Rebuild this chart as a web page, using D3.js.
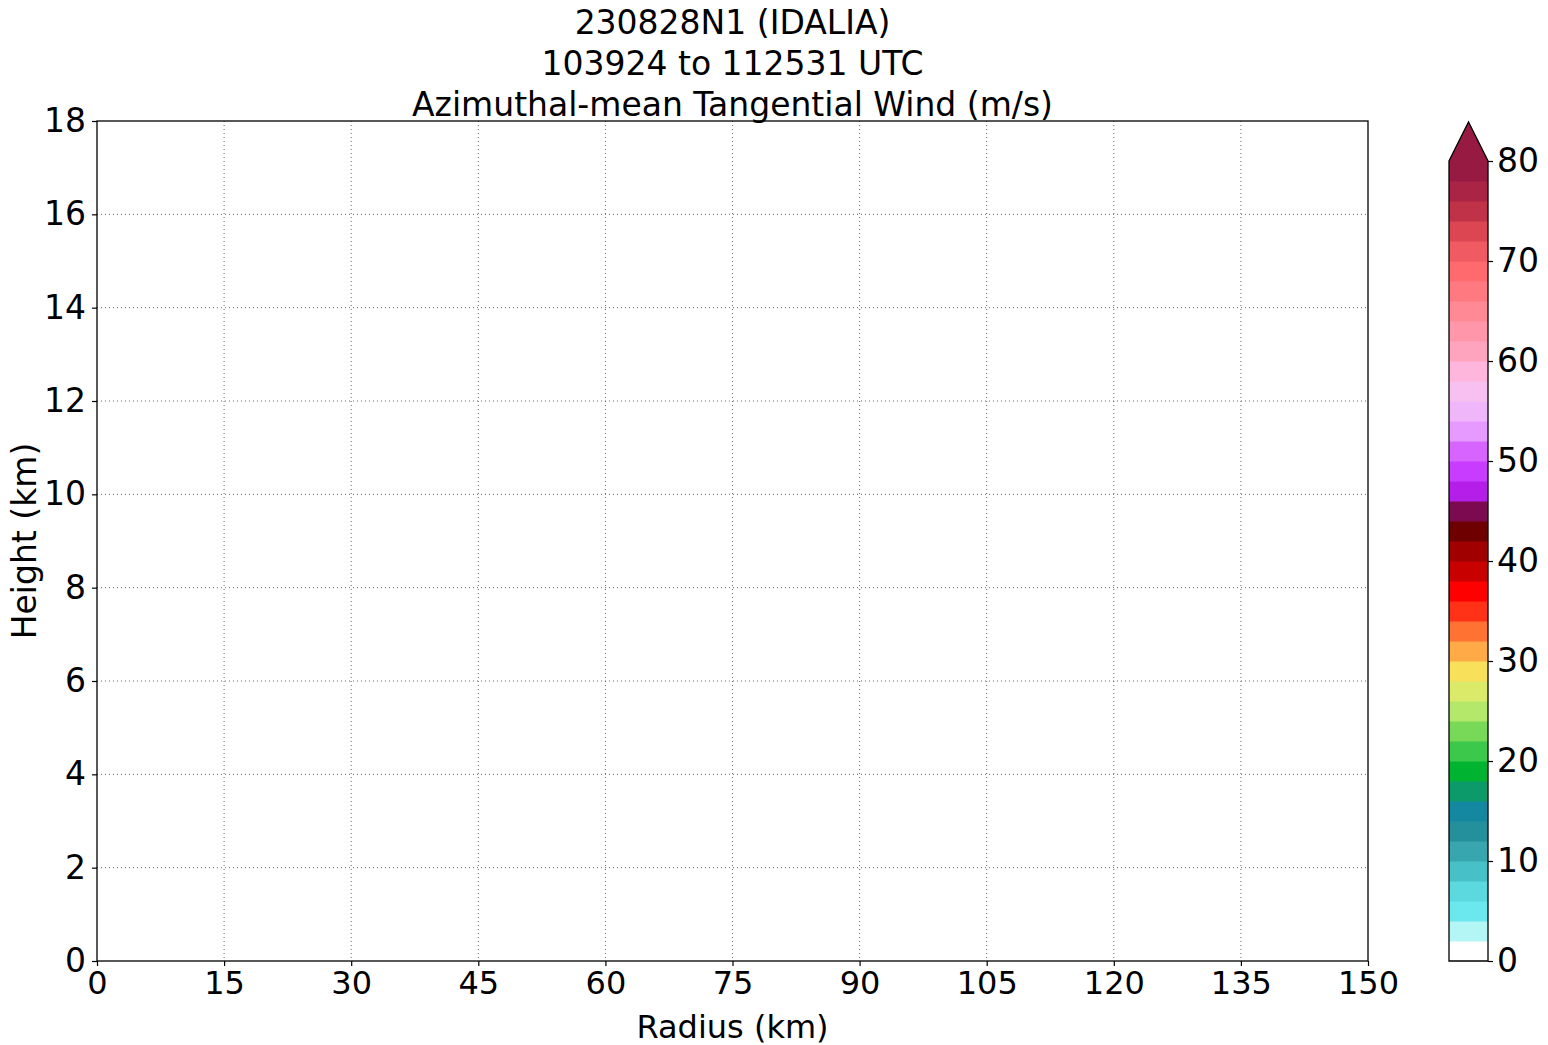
<!DOCTYPE html>
<html><head><meta charset="utf-8">
<script src="https://cdn.jsdelivr.net/npm/d3@7"></script>
<style>
html,body{margin:0;padding:0;background:#fff;}
svg{display:block;font-family:"DejaVu Sans",sans-serif;}
</style></head>
<body><svg id="c" width="1548" height="1045"></svg>
<script>
const titleLines = ["230828N1 (IDALIA)", "103924 to 112531 UTC", "Azimuthal-mean Tangential Wind (m/s)"];
const xTicks = [0,15,30,45,60,75,90,105,120,135,150];
const yTicks = [0,2,4,6,8,10,12,14,16,18];
const cbTicks = [0,10,20,30,40,50,60,70,80];
const levels = d3.range(0, 82, 2);
const levelColors = [
 "#ffffff","#b4f5f5","#6ae8ee","#5cd8df","#48c0c8","#38a6ae","#24909c","#1488a0",
 "#0c9a6a","#00b432","#3cc84a","#78d858","#b4e86a","#dcea6a","#f8e05a","#ffaa46",
 "#ff7232","#ff3218","#ff0000","#c80000","#a00000","#6e0000","#7c0a50","#b41ee8",
 "#c83cff","#d864ff","#e69aff","#f0b6fa","#f8c0f0","#ffb6dc","#ffa4be","#ff96aa",
 "#ff8a96","#ff7a80","#ff6a6e","#f05a62","#dc4652","#c03248","#aa2446","#961a42"
];
const extendColor = "#961a42";

const svg = d3.select("#c");
const pl = 97, pr = 1368, pt = 121, pb = 961;
const x = d3.scaleLinear().domain([0,150]).range([pl,pr]);
const y = d3.scaleLinear().domain([0,18]).range([pb,pt]);
const fs = 33, fx = 32;

// grid
const g = svg.append("g");
g.selectAll("line.gx").data(xTicks.slice(1,-1)).enter().append("line")
 .attr("x1",d=>x(d)).attr("x2",d=>x(d)).attr("y1",pt).attr("y2",pb)
 .attr("stroke","#666").attr("stroke-width",1).attr("stroke-dasharray","1,3");
g.selectAll("line.gy").data(yTicks.slice(1,-1)).enter().append("line")
 .attr("y1",d=>y(d)).attr("y2",d=>y(d)).attr("x1",pl).attr("x2",pr)
 .attr("stroke","#666").attr("stroke-width",1).attr("stroke-dasharray","1,3");

// axes
const xa = svg.append("g").attr("transform",`translate(0,${pb})`)
 .call(d3.axisBottom(x).tickValues(xTicks).tickSize(5).tickPadding(5).tickSizeOuter(0));
const ya = svg.append("g").attr("transform",`translate(${pl},0)`)
 .call(d3.axisLeft(y).tickValues(yTicks).tickSize(5).tickPadding(6).tickSizeOuter(0));
[xa,ya].forEach(a=>{
 a.select(".domain").remove();
 a.selectAll("text").attr("font-family","DejaVu Sans").attr("fill","#000");
 a.selectAll("line").attr("stroke","#000").attr("stroke-width",1.2);
});
xa.selectAll("text").attr("font-size",fx);
ya.selectAll("text").attr("font-size",fs);
svg.append("rect").attr("x",pl).attr("y",pt).attr("width",pr-pl).attr("height",pb-pt)
 .attr("fill","none").attr("stroke","#000").attr("stroke-width",1.3);

// labels
svg.append("text").attr("x",(pl+pr)/2).attr("y",1038).attr("text-anchor","middle")
 .attr("font-size",fx).text("Radius (km)");
svg.append("text").attr("transform",`translate(36,${(pt+pb)/2}) rotate(-90)`).attr("text-anchor","middle")
 .attr("font-size",fs).text("Height (km)");
titleLines.forEach((t,i)=>{
 svg.append("text").attr("x",(pl+pr)/2).attr("y",34+i*41).attr("text-anchor","middle")
  .attr("font-size",fs).text(t);
});

// colorbar
const cx0 = 1449, cx1 = 1488, ct = 161, cbot = 961;
const cy = d3.scaleLinear().domain([0,80]).range([cbot,ct]);
const cb = svg.append("g");
cb.selectAll("rect").data(levelColors).enter().append("rect")
 .attr("x",cx0).attr("width",cx1-cx0)
 .attr("y",(d,i)=>cy(levels[i+1])).attr("height",(d,i)=>cy(levels[i])-cy(levels[i+1])+0.5)
 .attr("fill",d=>d);
cb.append("path").attr("d",`M${cx0},${ct+0.5} L${(cx0+cx1)/2},122 L${cx1},${ct+0.5} Z`).attr("fill",extendColor);
cb.append("path").attr("d",`M${cx0},${cbot} L${cx0},${ct} L${(cx0+cx1)/2},122 L${cx1},${ct} L${cx1},${cbot} Z`)
 .attr("fill","none").attr("stroke","#000").attr("stroke-width",1.3);
const ca = svg.append("g").attr("transform",`translate(${cx1},0)`)
 .call(d3.axisRight(cy).tickValues(cbTicks).tickSize(5).tickPadding(4).tickSizeOuter(0));
ca.select(".domain").remove();
ca.selectAll("text").attr("font-size",fs).attr("font-family","DejaVu Sans").attr("fill","#000");
ca.selectAll("line").attr("stroke","#000").attr("stroke-width",1.2);
</script></body></html>
